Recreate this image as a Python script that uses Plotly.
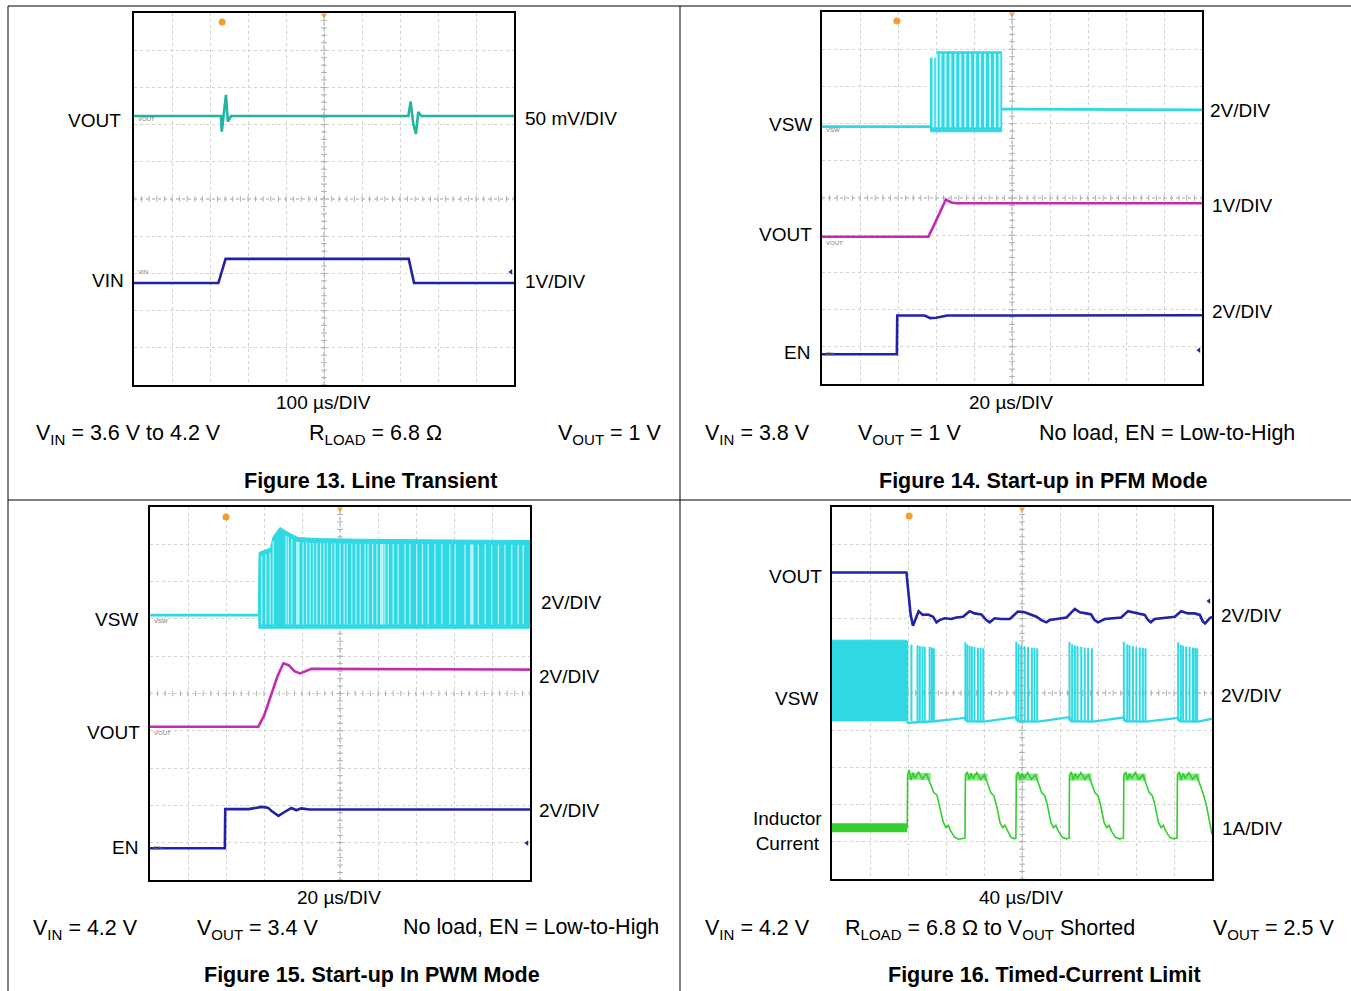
import numpy as np
import plotly.graph_objects as go

W, H = 1351, 991
FONT = "Liberation Sans, Arial, Helvetica, sans-serif"

C_TEAL = "#22b3a3"
C_CYAN = "#2fd8e2"
C_BLUE = "#2222a8"
C_MAG = "#c22cb4"
C_GRN = "#33cf2f"

# ---------------- DATA (time / level in scope divisions, 10 x 10 screen) ----------------
# Figure 13 - Line transient
f13_vout_t = [0.0, 2.29, 2.31, 2.37, 2.42, 2.47, 2.55, 7.22, 7.28, 7.35, 7.42, 7.48, 7.56, 10.0]
f13_vout_y = [7.23, 7.23, 6.81, 7.40, 7.80, 7.08, 7.23, 7.23, 7.62, 7.02, 6.75, 7.34, 7.23, 7.23]
f13_vin_t = [0.0, 2.22, 2.41, 7.23, 7.37, 10.0]
f13_vin_y = [2.74, 2.74, 3.39, 3.39, 2.74, 2.74]

# Figure 14 - Start-up in PFM mode
f14_vsw_pre_t = [0.0, 2.84]
f14_vsw_pre_y = [6.92, 6.92]
f14_vsw_post_t = [4.73, 4.80, 10.0]
f14_vsw_post_y = [7.39, 7.39, 7.37]
f14_burst_t = [2.84, 3.02, 3.02, 4.73]
f14_burst_top = [8.76, 8.76, 8.93, 8.93]
f14_burst_low = 6.78
f14_gap_t = [2.93, 3.02, 3.12, 3.25, 3.38, 3.51, 3.64, 3.77, 3.90, 4.03, 4.16, 4.29, 4.42, 4.55, 4.67]
f14_vout_t = [0.0, 2.80, 2.93, 3.10, 3.26, 3.40, 3.54, 10.0]
f14_vout_y = [3.96, 3.96, 4.23, 4.62, 4.96, 4.88, 4.86, 4.86]
f14_en_t = [0.0, 1.97, 1.98, 2.70, 2.85, 3.00, 3.30, 4.00, 10.0]
f14_en_y = [0.80, 0.80, 1.84, 1.84, 1.77, 1.78, 1.84, 1.84, 1.85]

# Figure 15 - Start-up in PWM mode
f15_vsw_pre_t = [0.0, 2.85]
f15_vsw_pre_y = [7.10, 7.10]
f15_burst_t = [2.85, 2.87, 3.17, 3.24, 3.42, 3.50, 3.70, 3.90, 4.50, 6.00, 8.00, 10.0]
f15_burst_top = [7.10, 8.78, 8.90, 9.20, 9.45, 9.40, 9.28, 9.18, 9.15, 9.13, 9.12, 9.10]
f15_burst_low = 6.75
f15_gap_t = [2.94, 3.05, 3.16, 3.24, 3.58, 3.64, 3.73, 4.03, 4.12, 4.21, 4.30, 4.39, 4.49,
             4.58, 4.67, 4.78, 4.87, 5.00, 5.11, 5.19, 5.31, 5.42, 5.53, 5.66, 5.74, 5.86,
             5.97, 6.18, 6.27, 6.40, 6.53, 6.71, 6.84, 7.02, 7.17, 7.32, 7.50, 7.68, 7.89,
             8.03, 8.29, 8.64, 8.82, 8.99, 9.17, 9.34, 9.52, 9.69, 9.82]
f15_wide_gap_t = [3.89, 6.10, 8.47]
f15_vout_t = [0.0, 2.85, 3.00, 3.16, 3.35, 3.51, 3.65, 3.80, 3.95, 4.25, 6.00, 10.0]
f15_vout_y = [4.11, 4.11, 4.40, 4.87, 5.45, 5.81, 5.76, 5.60, 5.54, 5.66, 5.66, 5.64]
f15_en_t = [0.0, 1.97, 1.98, 2.60, 2.94, 3.10, 3.20, 3.38, 3.55, 3.72, 3.85, 3.98, 4.20, 10.0]
f15_en_y = [0.85, 0.85, 1.90, 1.90, 1.96, 1.94, 1.85, 1.72, 1.83, 1.93, 1.87, 1.92, 1.89, 1.89]

# Figure 16 - Timed-current limit
f16_vout = [(0.00, 8.24), (1.96, 8.24), (2.00, 7.81), (2.07, 7.10), (2.13, 6.81), (2.19, 6.96),
            (2.28, 7.20), (2.39, 7.10), (2.53, 7.11), (2.66, 7.05), (2.75, 6.90), (2.83, 6.96),
            (2.96, 7.01), (3.14, 6.99), (3.27, 7.03), (3.45, 7.05), (3.62, 7.20), (3.75, 7.14),
            (3.93, 7.11), (4.06, 6.96), (4.15, 6.90), (4.28, 7.01), (4.46, 6.99), (4.68, 6.99),
            (4.89, 7.19), (5.07, 7.17), (5.25, 7.10), (5.38, 7.05), (5.51, 6.96), (5.64, 6.90),
            (5.73, 6.96), (5.95, 6.99), (6.17, 7.03), (6.39, 7.26), (6.52, 7.17), (6.69, 7.14),
            (6.82, 7.11), (6.91, 6.96), (7.00, 6.90), (7.18, 6.99), (7.44, 7.01), (7.61, 7.03),
            (7.79, 7.20), (7.92, 7.17), (8.10, 7.14), (8.23, 7.10), (8.32, 6.96), (8.39, 6.90),
            (8.49, 6.99), (8.75, 7.01), (9.02, 7.05), (9.19, 7.20), (9.37, 7.14), (9.54, 7.14),
            (9.68, 7.10), (9.76, 6.92), (9.82, 6.87), (9.94, 7.01), (10.0, 7.05)]
f16_dense_t = [0.0, 1.96]
f16_dense_hi = 6.42
f16_dense_lo = 4.25
f16_vsw_base = [(1.96, 4.22), (2.05, 4.20), (2.70, 4.24), (3.50, 4.33), (3.55, 4.24), (4.00, 4.23),
                (4.84, 4.35), (4.90, 4.24), (5.42, 4.23), (6.24, 4.35), (6.30, 4.24), (6.86, 4.23),
                (7.67, 4.34), (7.72, 4.24), (8.27, 4.23), (9.10, 4.33), (9.15, 4.24), (9.63, 4.23),
                (10.0, 4.31)]
f16_spikes = [(1.98, 6.40), (2.09, 6.30), (2.25, 6.28), (2.31, 6.26), (2.38, 6.25), (2.44, 6.24),
              (2.57, 6.24), (2.63, 6.22), (2.68, 6.20),
              (3.51, 6.36), (3.56, 6.30), (3.62, 6.27), (3.68, 6.25), (3.75, 6.24), (3.84, 6.22),
              (3.91, 6.21), (3.98, 6.20),
              (4.85, 6.38), (4.91, 6.32), (4.98, 6.28), (5.07, 6.26), (5.16, 6.24), (5.26, 6.22),
              (5.33, 6.21), (5.40, 6.20),
              (6.25, 6.37), (6.32, 6.31), (6.39, 6.28), (6.46, 6.26), (6.56, 6.24), (6.65, 6.22),
              (6.74, 6.21), (6.84, 6.20),
              (7.68, 6.37), (7.77, 6.31), (7.83, 6.28), (7.92, 6.26), (8.01, 6.24), (8.10, 6.22),
              (8.18, 6.21), (8.25, 6.20),
              (9.11, 6.36), (9.18, 6.30), (9.24, 6.27), (9.32, 6.25), (9.41, 6.24), (9.50, 6.22),
              (9.56, 6.21), (9.61, 6.20)]
f16_il_low_t = [0.0, 1.98]
f16_il_low_y = [1.38, 1.38]
f16_il = [(1.98, 1.38), (1.99, 2.80), (2.03, 2.93), (2.08, 2.66), (2.13, 2.86), (2.18, 2.70),
          (2.28, 2.88), (2.38, 2.68), (2.48, 2.84), (2.58, 2.60), (2.68, 2.32), (2.76, 2.26),
          (2.83, 1.98), (2.93, 1.52), (3.00, 1.38), (3.06, 1.44), (3.13, 1.28), (3.23, 1.12),
          (3.33, 1.07), (3.50, 1.10),
          (3.51, 2.80), (3.56, 2.88), (3.61, 2.68), (3.66, 2.84), (3.71, 2.70), (3.81, 2.86),
          (3.91, 2.68), (4.01, 2.80), (4.09, 2.58), (4.18, 2.32), (4.26, 2.24), (4.33, 1.98),
          (4.42, 1.52), (4.49, 1.38), (4.55, 1.44), (4.62, 1.28), (4.71, 1.12), (4.80, 1.08),
          (4.84, 1.10),
          (4.85, 2.80), (4.90, 2.88), (4.95, 2.66), (5.00, 2.84), (5.05, 2.70), (5.15, 2.86),
          (5.25, 2.68), (5.35, 2.80), (5.43, 2.58), (5.52, 2.32), (5.60, 2.24), (5.67, 1.98),
          (5.76, 1.52), (5.83, 1.38), (5.89, 1.44), (5.96, 1.28), (6.06, 1.12), (6.16, 1.08),
          (6.24, 1.10),
          (6.25, 2.80), (6.30, 2.88), (6.35, 2.66), (6.40, 2.84), (6.45, 2.70), (6.55, 2.86),
          (6.65, 2.68), (6.75, 2.80), (6.83, 2.58), (6.92, 2.32), (7.00, 2.24), (7.07, 1.98),
          (7.16, 1.52), (7.23, 1.38), (7.29, 1.44), (7.36, 1.28), (7.46, 1.12), (7.56, 1.08),
          (7.67, 1.10),
          (7.68, 2.80), (7.73, 2.88), (7.78, 2.66), (7.83, 2.84), (7.88, 2.70), (7.98, 2.86),
          (8.08, 2.68), (8.18, 2.80), (8.26, 2.58), (8.35, 2.32), (8.43, 2.24), (8.50, 1.98),
          (8.59, 1.52), (8.66, 1.38), (8.72, 1.44), (8.79, 1.28), (8.89, 1.12), (8.99, 1.08),
          (9.08, 1.10),
          (9.09, 2.80), (9.14, 2.88), (9.19, 2.66), (9.24, 2.84), (9.29, 2.70), (9.39, 2.86),
          (9.49, 2.68), (9.59, 2.80), (9.67, 2.58), (9.76, 2.32), (9.85, 2.00), (9.93, 1.60),
          (10.0, 1.20)]
f16_il_tops = [(1.99, 2.60, 2.76), (3.52, 4.09, 2.74), (4.86, 5.43, 2.74), (6.26, 6.83, 2.74),
               (7.69, 8.26, 2.74), (9.10, 9.67, 2.74)]

# ---------------- LAYOUT HELPERS ----------------
def PX(x):
    return x / W


def PY(y):
    return 1 - y / H


boxes = {1: (134, 13, 514, 385), 2: (822, 12, 1202, 384), 3: (150, 507, 530, 880), 4: (832, 507, 1212, 879)}

fig = go.Figure()
layout = dict(width=W, height=H, margin=dict(l=0, r=0, t=0, b=0), autosize=False,
              paper_bgcolor="white", plot_bgcolor="white", showlegend=False,
              font=dict(family=FONT, size=19, color="black"))
for i, (x0, y0, x1, y1) in boxes.items():
    s = "" if i == 1 else str(i)
    ax = dict(range=[0, 10], showticklabels=False, ticks="", showgrid=True, dtick=1,
              gridcolor="#d2d2d2", griddash="dot", gridwidth=1, zeroline=False,
              showline=True, mirror=True, linecolor="black", linewidth=2, fixedrange=True)
    layout["xaxis" + s] = dict(ax, domain=[PX(x0), PX(x1)], anchor="y" + s)
    layout["yaxis" + s] = dict(ax, domain=[PY(y1), PY(y0)], anchor="x" + s)
fig.update_layout(**layout)


def ax_of(i):
    s = "" if i == 1 else str(i)
    return dict(xaxis="x" + s, yaxis="y" + s)


def line(i, t, y, color, width=2.4, opacity=1.0):
    fig.add_trace(go.Scatter(x=t, y=y, mode="lines", line=dict(color=color, width=width),
                             opacity=opacity, hoverinfo="skip", **ax_of(i)))


# centre cross-hair with minor ticks
ticks = np.arange(0, 10.01, 0.2)
for i in boxes:
    s = "" if i == 1 else str(i)
    fig.add_shape(type="line", x0=5, x1=5, y0=0, y1=10, xref="x" + s, yref="y" + s,
                  line=dict(color="#9a9a9a", width=1, dash="dot"), layer="below")
    fig.add_shape(type="line", x0=0, x1=10, y0=5, y1=5, xref="x" + s, yref="y" + s,
                  line=dict(color="#9a9a9a", width=1, dash="dot"), layer="below")
    fig.add_trace(go.Scatter(x=[5] * len(ticks), y=ticks, mode="markers",
                             marker=dict(symbol="line-ew", size=4, line=dict(color="#adadad", width=1)),
                             hoverinfo="skip", **ax_of(i)))
    fig.add_trace(go.Scatter(x=ticks, y=[5] * len(ticks), mode="markers",
                             marker=dict(symbol="line-ns", size=4, line=dict(color="#adadad", width=1)),
                             hoverinfo="skip", **ax_of(i)))

# ---- Figure 13
line(1, f13_vout_t, f13_vout_y, C_TEAL, 2.6)
line(1, f13_vin_t, f13_vin_y, C_BLUE, 2.6)

# ---- Figure 14
poly_x = f14_burst_t + [f14_burst_t[-1], f14_burst_t[0]]
poly_y = f14_burst_top + [f14_burst_low, f14_burst_low]
fig.add_trace(go.Scatter(x=poly_x, y=poly_y, mode="lines", fill="toself", fillcolor=C_CYAN,
                         line=dict(color=C_CYAN, width=1), hoverinfo="skip", **ax_of(2)))
gx, gy = [], []
for t in f14_gap_t:
    gx += [t, t, None]
    gy += [f14_burst_low + 0.12, f14_burst_top[-1] - 0.05, None]
fig.add_trace(go.Scatter(x=gx, y=gy, mode="lines", line=dict(color="rgba(215,250,252,0.9)", width=2),
                         hoverinfo="skip", **ax_of(2)))
line(2, f14_vsw_pre_t, f14_vsw_pre_y, C_CYAN, 2.6)
line(2, f14_vsw_post_t, f14_vsw_post_y, C_CYAN, 2.6)
line(2, f14_vout_t, f14_vout_y, C_MAG, 2.6)
line(2, f14_en_t, f14_en_y, C_BLUE, 2.6)

# ---- Figure 15
poly_x = f15_burst_t + [f15_burst_t[-1], f15_burst_t[0]]
poly_y = f15_burst_top + [f15_burst_low, f15_burst_low]
fig.add_trace(go.Scatter(x=poly_x, y=poly_y, mode="lines", fill="toself", fillcolor=C_CYAN,
                         line=dict(color=C_CYAN, width=1), hoverinfo="skip", **ax_of(3)))
top_at = lambda t: float(np.interp(t, f15_burst_t, f15_burst_top))
for lst, wdt in ((f15_gap_t, 1.3), (f15_wide_gap_t, 3.5)):
    gx, gy = [], []
    for t in lst:
        gx += [t, t, None]
        gy += [f15_burst_low + 0.1, top_at(t) - 0.12, None]
    fig.add_trace(go.Scatter(x=gx, y=gy, mode="lines", line=dict(color="rgba(200,248,250,0.85)", width=wdt),
                             hoverinfo="skip", **ax_of(3)))
line(3, f15_vsw_pre_t, f15_vsw_pre_y, C_CYAN, 2.6)
line(3, f15_vout_t, f15_vout_y, C_MAG, 2.6)
line(3, f15_en_t, f15_en_y, C_BLUE, 2.6)

# ---- Figure 16
fig.add_trace(go.Scatter(x=[f16_dense_t[0], f16_dense_t[1], f16_dense_t[1], f16_dense_t[0]],
                         y=[f16_dense_lo, f16_dense_lo, f16_dense_hi, f16_dense_hi],
                         mode="lines", fill="toself", fillcolor=C_CYAN, line=dict(color=C_CYAN, width=1),
                         hoverinfo="skip", **ax_of(4)))
sx, sy = [], []
for t, top in f16_spikes:
    sx += [t, t, None]
    sy += [f16_dense_lo, top, None]
fig.add_trace(go.Scatter(x=sx, y=sy, mode="lines", line=dict(color=C_CYAN, width=2),
                         hoverinfo="skip", **ax_of(4)))
line(4, [p[0] for p in f16_vsw_base], [p[1] for p in f16_vsw_base], C_CYAN, 2.4)
line(4, [p[0] for p in f16_vout], [p[1] for p in f16_vout], C_BLUE, 2.6)
line(4, f16_il_low_t, f16_il_low_y, C_GRN, 9)
line(4, [p[0] for p in f16_il], [p[1] for p in f16_il], C_GRN, 1.6)
tx, ty = [], []
for a, b, lv in f16_il_tops:
    tx += [a, b, None]
    ty += [lv, lv, None]
fig.add_trace(go.Scatter(x=tx, y=ty, mode="lines", line=dict(color=C_GRN, width=7), opacity=0.55,
                         hoverinfo="skip", **ax_of(4)))

# scope decorations: trigger marker, top-centre marker, right-side channel marker
trig = {1: (2.32, 9.76), 2: (1.97, 9.76), 3: (2.00, 9.73), 4: (2.03, 9.76)}
rmark = {1: 3.04, 2: 0.91, 3: 0.99, 4: 7.47}
for i in boxes:
    fig.add_trace(go.Scatter(x=[trig[i][0]], y=[trig[i][1]], mode="markers",
                             marker=dict(symbol="circle", size=7, color="#f0a030"), hoverinfo="skip", **ax_of(i)))
    fig.add_trace(go.Scatter(x=[5], y=[9.93], mode="markers",
                             marker=dict(symbol="triangle-down", size=5, color="#f0a030"), hoverinfo="skip", **ax_of(i)))
    fig.add_trace(go.Scatter(x=[9.92], y=[rmark[i]], mode="markers",
                             marker=dict(symbol="triangle-left", size=5, color=C_BLUE), hoverinfo="skip", **ax_of(i)))

# tiny on-screen channel names
tiny = [(1, "VOUT", 7.15), (1, "VIN", 3.05), (2, "VSW", 6.82), (2, "VOUT", 3.80), (2, "EN", 0.80),
        (3, "VSW", 6.95), (3, "VOUT", 3.95), (3, "EN", 0.85)]
for i, txt_, yv in tiny:
    s = "" if i == 1 else str(i)
    fig.add_annotation(x=0.04, y=yv, xref="x" + s, yref="y" + s, text=txt_, showarrow=False,
                       xanchor="left", font=dict(size=6, color="#777777"))

# ---------------- TEXT ----------------
def txt(x, y, s, anchor="left", size=19, bold=False):
    if bold:
        s = "<b>" + s + "</b>"
    fig.add_annotation(x=PX(x), y=PY(y), xref="paper", yref="paper", text=s, showarrow=False,
                       xanchor=anchor, yanchor="middle", font=dict(family=FONT, size=size, color="black"))


CS = 21.5   # size of the condition lines
FS = 21.5   # size of the figure captions

# Figure 13
txt(123, 120, "VOUT", "right"); txt(126, 280, "VIN", "right")
txt(523, 118, "50 mV/DIV"); txt(523, 281, "1V/DIV")
txt(323, 403, "100 µs/DIV", "center")
txt(34, 434, "V<sub>IN</sub> = 3.6 V to 4.2 V", size=CS); txt(307, 434, "R<sub>LOAD</sub> = 6.8 Ω", size=CS)
txt(664, 434, "V<sub>OUT</sub> = 1 V", "right", size=CS)
txt(371, 481, "Figure 13. Line Transient", "center", FS, True)
# Figure 14
txt(814, 124, "VSW", "right"); txt(814, 234, "VOUT", "right"); txt(812, 352, "EN", "right")
txt(1208, 110, "2V/DIV"); txt(1210, 205, "1V/DIV"); txt(1210, 312, "2V/DIV")
txt(1011, 403, "20 µs/DIV", "center")
txt(703, 434, "V<sub>IN</sub> = 3.8 V", size=CS); txt(856, 434, "V<sub>OUT</sub> = 1 V", size=CS)
txt(1297, 433, "No load, EN = Low-to-High", "right", size=CS)
txt(1043, 481, "Figure 14. Start-up in PFM Mode", "center", FS, True)
# Figure 15
txt(140, 619, "VSW", "right"); txt(142, 732, "VOUT", "right"); txt(140, 847, "EN", "right")
txt(539, 602, "2V/DIV"); txt(537, 676, "2V/DIV"); txt(537, 810, "2V/DIV")
txt(339, 897, "20 µs/DIV", "center")
txt(31, 929, "V<sub>IN</sub> = 4.2 V", size=CS); txt(195, 929, "V<sub>OUT</sub> = 3.4 V", size=CS)
txt(661, 927, "No load, EN = Low-to-High", "right", size=CS)
txt(372, 975, "Figure 15. Start-up In PWM Mode", "center", FS, True)
# Figure 16
txt(824, 576, "VOUT", "right"); txt(820, 698, "VSW", "right")
fig.add_annotation(x=PX(787), y=PY(831), xref="paper", yref="paper", text="Inductor<br>Current",
                   showarrow=False, xanchor="center", yanchor="middle", align="center",
                   font=dict(family=FONT, size=19, color="black"))
txt(1219, 615, "2V/DIV"); txt(1219, 695, "2V/DIV"); txt(1220, 828, "1A/DIV")
txt(1021, 897, "40 µs/DIV", "center")
txt(703, 929, "V<sub>IN</sub> = 4.2 V", size=CS)
txt(843, 929, "R<sub>LOAD</sub> = 6.8 Ω to V<sub>OUT</sub> Shorted", size=CS)
txt(1336, 929, "V<sub>OUT</sub> = 2.5 V", "right", size=CS)
txt(1044, 975, "Figure 16. Timed-Current Limit", "center", FS, True)

# table rules
for (xa, ya, xb, yb) in [(8, 6, W, 6), (8, 6, 8, H), (8, 500, W, 500), (680, 6, 680, H)]:
    fig.add_shape(type="line", xref="paper", yref="paper", x0=PX(xa), y0=PY(ya), x1=PX(xb), y1=PY(yb),
                  line=dict(color="black", width=1))

fig.write_html("out.html", config={"displayModeBar": False},
               post_script="document.body.style.margin='0';")
